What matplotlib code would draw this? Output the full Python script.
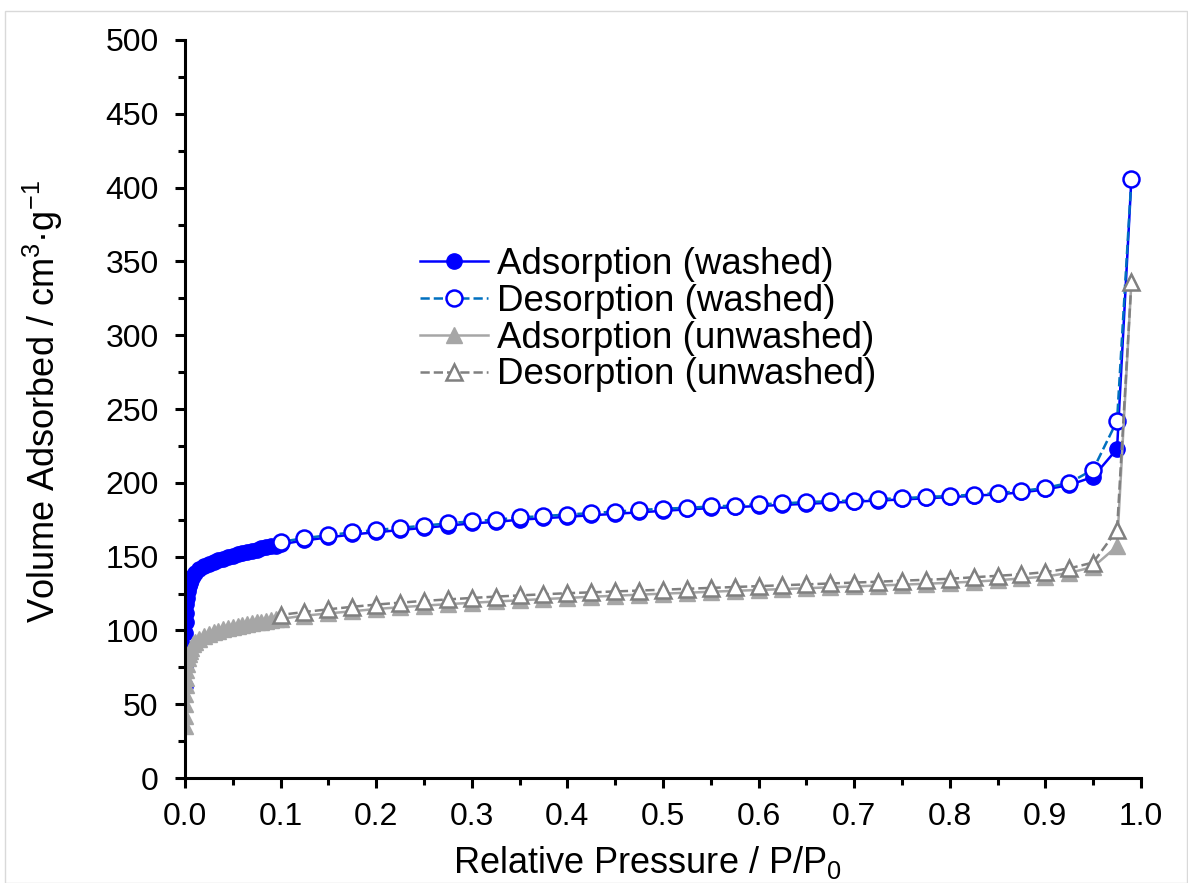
import matplotlib
matplotlib.use("Agg")
import matplotlib.pyplot as plt
from matplotlib.patches import Rectangle

plt.rcParams['font.family'] = ['Liberation Sans', 'DejaVu Sans']
plt.rcParams['mathtext.default'] = 'regular'

# washed sample, adsorption branch
p_ads_w = [0.00005, 0.0001, 0.0002, 0.0004, 0.0007, 0.001, 0.0015, 0.002, 0.003, 0.004,
           0.005, 0.006, 0.008, 0.01, 0.015, 0.02, 0.025, 0.03, 0.035, 0.04, 0.045, 0.05,
           0.055, 0.06, 0.065, 0.07, 0.075, 0.08, 0.085, 0.09, 0.095, 0.1,
           0.125, 0.15, 0.175, 0.2, 0.225, 0.25, 0.275, 0.3, 0.325, 0.35, 0.375, 0.4,
           0.425, 0.45, 0.475, 0.5, 0.525, 0.55, 0.575, 0.6, 0.625, 0.65, 0.675, 0.7,
           0.725, 0.75, 0.775, 0.8, 0.825, 0.85, 0.875, 0.9, 0.925, 0.95, 0.975, 0.99]
v_ads_w = [62, 75, 88, 98, 106, 112, 118, 122, 127, 130,
           132, 134, 137, 139, 141.5, 143.5, 145, 146.5, 147.5, 148.5, 149.5, 150.5,
           151.5, 152.5, 153.3, 154, 154.8, 155.5, 156.2, 157, 157.5, 158.3,
           161, 163, 165, 166.5, 168, 169.5, 171, 172.5, 173.5, 175, 176, 177,
           178, 179, 180, 181, 182, 182.8, 183.5, 184.3, 185, 185.8, 186.5, 187.2,
           188, 188.7, 189.5, 190.3, 191.2, 192.2, 193.5, 195.5, 198.5, 204, 223, 406]

# washed sample, desorption branch
p_des_w = [0.99, 0.975, 0.95, 0.925, 0.9, 0.875, 0.85, 0.825, 0.8, 0.775, 0.75, 0.725,
           0.7, 0.675, 0.65, 0.625, 0.6, 0.575, 0.55, 0.525, 0.5, 0.475, 0.45, 0.425,
           0.4, 0.375, 0.35, 0.325, 0.3, 0.275, 0.25, 0.225, 0.2, 0.175, 0.15, 0.125, 0.1]
v_des_w = [406, 242, 209, 200, 196.5, 194.5, 193, 192, 191, 190.5, 189.5, 189,
           188, 187.5, 187, 186, 185.5, 184.5, 184, 183, 182.5, 181.5, 180.5, 179.5,
           178.5, 177.5, 176.5, 175, 174, 172.5, 171, 169.5, 168, 166.5, 164.5, 162.5, 160]

# unwashed sample, adsorption branch
p_ads_u = [0.00005, 0.0001, 0.0002, 0.0004, 0.0007, 0.001, 0.0015, 0.002, 0.003, 0.004,
           0.005, 0.006, 0.008, 0.01, 0.015, 0.02, 0.025, 0.03, 0.035, 0.04, 0.045, 0.05,
           0.055, 0.06, 0.065, 0.07, 0.075, 0.08, 0.085, 0.09, 0.095, 0.1,
           0.125, 0.15, 0.175, 0.2, 0.225, 0.25, 0.275, 0.3, 0.325, 0.35, 0.375, 0.4,
           0.425, 0.45, 0.475, 0.5, 0.525, 0.55, 0.575, 0.6, 0.625, 0.65, 0.675, 0.7,
           0.725, 0.75, 0.775, 0.8, 0.825, 0.85, 0.875, 0.9, 0.925, 0.95, 0.975, 0.99]
v_ads_u = [35, 42, 50, 57, 63, 68, 73, 77, 81, 84,
           86, 88, 90.5, 92, 94.5, 96, 97.5, 98.8, 99.8, 100.7, 101.5, 102.3,
           103, 103.7, 104.3, 104.9, 105.5, 106, 106.5, 107, 107.4, 107.8,
           110, 111.5, 113, 114.5, 115.7, 116.8, 117.8, 118.7, 119.6, 120.4, 121.2, 122,
           122.8, 123.5, 124.2, 124.9, 125.5, 126.2, 126.8, 127.4, 128, 128.6, 129.2, 129.8,
           130.4, 131, 131.6, 132.3, 133, 134, 135.2, 136.5, 139, 143, 157, 336]

# unwashed sample, desorption branch
p_des_u = [0.99, 0.975, 0.95, 0.925, 0.9, 0.875, 0.85, 0.825, 0.8, 0.775, 0.75, 0.725,
           0.7, 0.675, 0.65, 0.625, 0.6, 0.575, 0.55, 0.525, 0.5, 0.475, 0.45, 0.425,
           0.4, 0.375, 0.35, 0.325, 0.3, 0.275, 0.25, 0.225, 0.2, 0.175, 0.15, 0.125, 0.1]
v_des_u = [336, 168, 146, 142, 139.5, 138, 137, 136, 135, 134.3, 133.7, 133,
           132.4, 131.8, 131.2, 130.6, 130, 129.4, 128.8, 128.2, 127.6, 127, 126.4, 125.8,
           125.2, 124.5, 123.7, 122.9, 122, 121, 120, 118.8, 117.5, 116, 114.3, 112.5, 110.5]

fig = plt.figure(figsize=(11.88, 8.83), dpi=100)
fig.patches.append(Rectangle((0.004, 0.0), 0.995, 0.988, transform=fig.transFigure,
                             fill=False, edgecolor='#D9D9D9', linewidth=1.0))
ax = fig.add_axes([0.1557, 0.1189, 0.8047, 0.8358])

ax.plot(p_ads_w, v_ads_w, '-', color='#0000FF', lw=1.8, marker='o', ms=11,
        mfc='#0000FF', mec='#0000FF', label='Adsorption (washed)')
ax.plot(p_des_w, v_des_w, '--', color='#0070C0', lw=1.8, marker='o', ms=11.5,
        mfc='white', mec='#0000FF', mew=1.8, label='Desorption (washed)')
ax.plot(p_ads_u, v_ads_u, '-', color='#A6A6A6', lw=1.8, marker='^', ms=11,
        mfc='#A6A6A6', mec='#A6A6A6', label='Adsorption (unwashed)')
ax.plot(p_des_u, v_des_u, '--', color='#808080', lw=1.8, marker='^', ms=11.5,
        mfc='white', mec='#808080', mew=1.8, label='Desorption (unwashed)')

ax.set_xlim(0, 1.0)
ax.set_ylim(0, 500)
ax.set_xticks([i / 10 for i in range(11)])
ax.set_xticks([i / 20 for i in range(21)], minor=True)
ax.set_yticks(range(0, 501, 50))
ax.set_yticks(range(0, 501, 25), minor=True)
ax.xaxis.set_major_formatter(matplotlib.ticker.FormatStrFormatter('%.1f'))

for s in ['top', 'right']:
    ax.spines[s].set_visible(False)
for s in ['left', 'bottom']:
    ax.spines[s].set_linewidth(2.2)
ax.tick_params(which='major', direction='out', length=7, width=2.2, labelsize=23)
ax.tick_params(which='minor', direction='out', length=5, width=2.2)
ax.tick_params(axis='x', which='major', pad=10)
ax.tick_params(axis='y', which='major', pad=12)

ax.set_xlabel('Relative Pressure / P/P$_0$', fontsize=26)
ax.set_ylabel('Volume Adsorbed / cm$^3$·g$^{-1}$', fontsize=26)
ax.xaxis.set_label_coords(0.484, -0.09)
ax.yaxis.set_label_coords(-0.125, 0.51)

ax.legend(loc='upper left', bbox_to_anchor=(0.3315, 0.7495), bbox_transform=fig.transFigure,
          frameon=False, fontsize=26.5, handlelength=1.85, handletextpad=0.25,
          labelspacing=0.05, borderpad=0.2)

fig.savefig('out.png', dpi=100)
